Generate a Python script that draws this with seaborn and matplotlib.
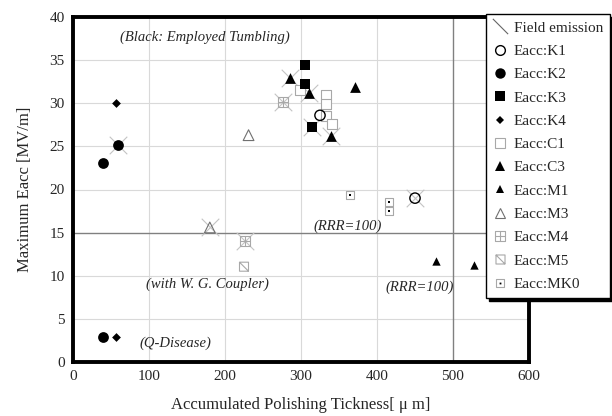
import matplotlib
matplotlib.use("Agg")
import matplotlib.pyplot as plt
from matplotlib.path import Path
from matplotlib.lines import Line2D
from matplotlib.legend_handler import HandlerTuple
import seaborn as sns

# ---------------- data ----------------
k1_x = [325, 450]
k1_y = [28.6, 19.0]
k2_x = [39, 59, 39]
k2_y = [23.1, 25.2, 2.9]
k3_x = [305, 305, 315]
k3_y = [34.4, 32.2, 27.2]
k4_x = [57, 57]
k4_y = [30.0, 2.9]
c1_x = [299, 333, 333, 333, 341]
c1_y = [31.5, 30.9, 29.9, 28.5, 27.6]
c3_x = [286, 311, 340, 371]
c3_y = [32.9, 31.2, 26.2, 31.9]
m1_x = [477, 527]
m1_y = [11.7, 11.3]
m3_x = [231, 180]
m3_y = [26.3, 15.6]
m4_x = [276, 226]
m4_y = [30.1, 14.0]
m5_x = [225]
m5_y = [11.05]
mk0_x = [365, 416, 416]
mk0_y = [19.4, 18.5, 17.5]
fe_x = [59, 286, 311, 276, 315, 340, 180, 226, 450]
fe_y = [25.2, 32.9, 31.2, 30.1, 27.2, 26.2, 15.6, 14.0, 19.0]

x_ticks = [0, 100, 200, 300, 400, 500, 600]
y_ticks = [0, 5, 10, 15, 20, 25, 30, 35, 40]

# ---------------- styling ----------------
sns.set_style("white")
plt.rcParams["font.family"] = ["Liberation Serif", "DejaVu Serif"]
plt.rcParams["mathtext.fontset"] = "stix"

GRAY = "#a8a8a8"

# custom markers
sq = [(-1, -1), (1, -1), (1, 1), (-1, 1), (-1, -1)]
sq_codes = [Path.MOVETO, Path.LINETO, Path.LINETO, Path.LINETO, Path.CLOSEPOLY]
m4_marker = Path(sq + [(0, -1), (0, 1), (-1, 0), (1, 0)],
                 sq_codes + [Path.MOVETO, Path.LINETO, Path.MOVETO, Path.LINETO])
m5_marker = Path(sq + [(-1, 1), (1, -1)],
                 sq_codes + [Path.MOVETO, Path.LINETO])
sq_marker = Path(sq, sq_codes)
fe_marker = Path([(-1, 1), (1, -1)], [Path.MOVETO, Path.LINETO])

fig = plt.figure(figsize=(6.12, 4.16), dpi=100)
ax = fig.add_axes([73 / 612, 1 - 362 / 416, (529 - 73) / 612, (362 - 17) / 416])

# grid
for xv in x_ticks[1:-2]:
    ax.axvline(xv, color="#d9d9d9", lw=0.8, zorder=0)
for yv in y_ticks[1:-1]:
    if yv != 15:
        ax.axhline(yv, color="#d9d9d9", lw=0.8, zorder=0)
ax.axvline(500, color="#808080", lw=1.0, zorder=0.5)
ax.axhline(15, color="#808080", lw=1.0, zorder=0.5)

# field emission crosses (behind)
sns.scatterplot(x=fe_x, y=fe_y, marker="x", s=160, color="#c4c4c4",
                linewidth=0.8, ax=ax, zorder=2)

# open gray series
sns.scatterplot(x=c1_x, y=c1_y, marker="s", s=45, facecolor="white",
                edgecolor=GRAY, linewidth=0.8, ax=ax, zorder=3)
sns.scatterplot(x=m3_x, y=m3_y, marker="^", s=60, facecolor="none",
                edgecolor="#707070", linewidth=0.8, ax=ax, zorder=3)
sns.scatterplot(x=m4_x, y=m4_y, marker=m4_marker, s=50, facecolor="none",
                edgecolor=GRAY, linewidth=0.8, ax=ax, zorder=3)
sns.scatterplot(x=m5_x, y=m5_y, marker=m5_marker, s=42, facecolor="none",
                edgecolor=GRAY, linewidth=0.8, ax=ax, zorder=3)
sns.scatterplot(x=mk0_x, y=mk0_y, marker=sq_marker, s=30, facecolor="white",
                edgecolor=GRAY, linewidth=0.8, ax=ax, zorder=3)
sns.scatterplot(x=mk0_x, y=mk0_y, marker="s", s=2, color="black",
                linewidth=0, ax=ax, zorder=4)

# black series
sns.scatterplot(x=k1_x, y=k1_y, marker="o", s=55, facecolor="none",
                edgecolor="black", linewidth=1.0, ax=ax, zorder=5)
sns.scatterplot(x=k2_x, y=k2_y, marker="o", s=60, color="black",
                linewidth=0, ax=ax, zorder=5)
sns.scatterplot(x=k3_x, y=k3_y, marker="s", s=50, color="black",
                linewidth=0, ax=ax, zorder=5)
sns.scatterplot(x=k4_x, y=k4_y, marker="D", s=20, color="black",
                linewidth=0, ax=ax, zorder=5)
sns.scatterplot(x=c3_x, y=c3_y, marker="^", s=60, color="black",
                linewidth=0, ax=ax, zorder=5)
sns.scatterplot(x=m1_x, y=m1_y, marker="^", s=36, color="black",
                linewidth=0, ax=ax, zorder=5)

ax.set_xlim(0, 600)
ax.set_ylim(0, 40)
ax.set_xticks(x_ticks)
ax.set_yticks(y_ticks)
ax.tick_params(length=0, labelsize=11, pad=6)
for sp in ax.spines.values():
    sp.set_visible(True)
    sp.set_linewidth(2.8)
    sp.set_color("black")
ax.set_xlabel("Accumulated Polishing Tickness[ μ m]", fontsize=12, labelpad=10)
ax.set_ylabel("Maximum Eacc [MV/m]", fontsize=12, labelpad=12)

# annotations
tkw = dict(fontsize=10.5, style="italic", ha="left", va="center")
ax.text(62, 37.6, "(Black: Employed Tumbling)", **tkw)
ax.text(96, 9.0, "(with W. G. Coupler)", **tkw)
ax.text(87, 2.2, "(Q-Disease)", **tkw)
ax.text(317, 15.7, "(RRR=100)", **tkw)
ax.text(411, 8.7, "(RRR=100)", **tkw)

# legend
def mk(marker, size, fc, ec, lw=0.8):
    return Line2D([], [], linestyle="none", marker=marker, markersize=size,
                  markerfacecolor=fc, markeredgecolor=ec, markeredgewidth=lw)

handles = [
    mk(fe_marker, 11, "none", "#666666", 0.8),
    mk("o", 7, "none", "black", 1.0),
    mk("o", 7.5, "black", "black", 0),
    mk("s", 7, "black", "black", 0),
    mk("D", 4.5, "black", "black", 0),
    mk("s", 7, "none", GRAY),
    mk("^", 7.5, "black", "black", 0),
    mk("^", 6, "black", "black", 0),
    mk("^", 7.5, "none", "#707070"),
    mk(m4_marker, 7, "none", GRAY),
    mk(m5_marker, 6.5, "none", GRAY),
    (mk(sq_marker, 5.5, "none", GRAY), mk("s", 1.3, "black", "black", 0)),
]
labels = ["Field emission", "Eacc:K1", "Eacc:K2", "Eacc:K3", "Eacc:K4",
          "Eacc:C1", "Eacc:C3", "Eacc:M1", "Eacc:M3", "Eacc:M4",
          "Eacc:M5", "Eacc:MK0"]
leg = fig.legend(handles, labels, loc="upper left",
                 bbox_to_anchor=(486 / 612, 1 - 14 / 416),
                 fontsize=11, frameon=True, fancybox=False,
                 shadow={"color": "black", "alpha": 1.0},
                 handlelength=0.9, handletextpad=0.45, borderpad=0.45,
                 borderaxespad=0, labelspacing=0.63,
                 handler_map={tuple: HandlerTuple(ndivide=1)})
leg.get_frame().set_edgecolor("black")
leg.get_frame().set_linewidth(1.0)
leg.set_zorder(10)

fig.savefig("out.png", dpi=100)
